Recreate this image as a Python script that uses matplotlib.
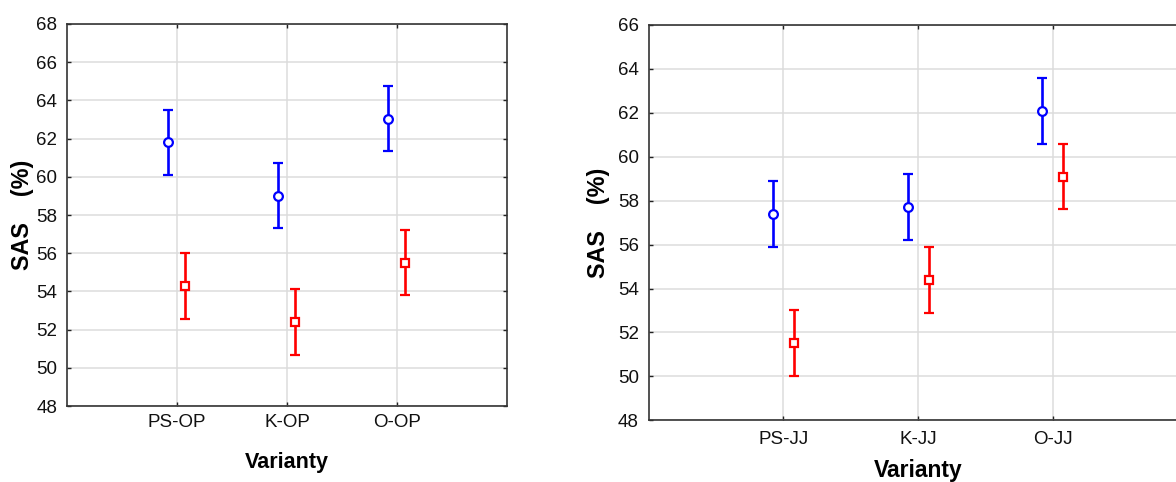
# SAS (%) by variant: mean +/- error for two groups, two panels side by side
import matplotlib.pyplot as plt
import numpy as np

# left panel (OP)
left_labels = ['PS-OP', 'K-OP', 'O-OP']
left_blue = [61.8, 59.0, 63.05]
left_blue_err = [1.7, 1.7, 1.7]
left_red = [54.3, 52.4, 55.5]
left_red_err = [1.72, 1.72, 1.7]

# right panel (JJ)
right_labels = ['PS-JJ', 'K-JJ', 'O-JJ']
right_blue = [57.4, 57.7, 62.1]
right_blue_err = [1.5, 1.5, 1.5]
right_red = [51.5, 54.4, 59.1]
right_red_err = [1.5, 1.5, 1.5]

plt.rcParams['font.family'] = ['Liberation Sans', 'DejaVu Sans']


def draw_panel(ax, labels, blue, blue_err, red, red_err, ymax, offs, xpad, lab_size):
    x = np.arange(1, len(labels) + 1)
    ax.errorbar(x + offs[0], blue, yerr=blue_err, fmt='o', color='#0000ff',
                mfc='white', mec='#0000ff', ms=6.3, mew=1.6, elinewidth=1.9,
                capsize=3.8, capthick=1.9, zorder=3)
    ax.errorbar(x + offs[1], red, yerr=red_err, fmt='s', color='#ff0000',
                mfc='white', mec='#ff0000', ms=5.8, mew=1.6, elinewidth=1.9,
                capsize=3.8, capthick=1.9, zorder=3)
    ax.set_xlim(0, 4)
    ax.set_ylim(48, ymax)
    ax.set_xticks(x)
    ax.set_xticklabels(labels)
    ax.set_yticks(np.arange(48, ymax + 1, 2))
    ax.grid(True, color='#dcdcdc', linewidth=1.1)
    ax.set_axisbelow(True)
    ax.tick_params(direction='in', length=3, width=1, labelsize=13.5,
                   top=True, right=True, pad=7, colors='#222222',
                   labelcolor='#111111')
    ax.tick_params(axis='x', pad=xpad)
    for s in ax.spines.values():
        s.set_color('#333333')
        s.set_linewidth(1.2)
    ax.set_xlabel('Varianty', fontsize=lab_size, fontweight='bold')
    ax.set_ylabel('SAS    (%)', fontsize=16.8, fontweight='bold')


fig = plt.figure(figsize=(11.76, 4.82), dpi=100)

ax1 = fig.add_axes([67 / 1176, 1 - 406 / 482, 440 / 1176, 382 / 482])
draw_panel(ax1, left_labels, left_blue, left_blue_err, left_red, left_red_err,
           68, (-0.08, 0.07), 5.5, 15.5)
ax1.yaxis.set_label_coords(-0.075, 0.5)
ax1.xaxis.set_label_coords(0.5, -0.12)

ax2 = fig.add_axes([648.7 / 1176, 1 - 420.3 / 482, 538.5 / 1176, 395.3 / 482])
draw_panel(ax2, right_labels, right_blue, right_blue_err, right_red, right_red_err,
           66, (-0.075, 0.08), 8, 16.5)
ax2.yaxis.set_label_coords(-0.071, 0.5)
ax2.xaxis.set_label_coords(0.5, -0.099)

plt.savefig('out.png', dpi=100)
